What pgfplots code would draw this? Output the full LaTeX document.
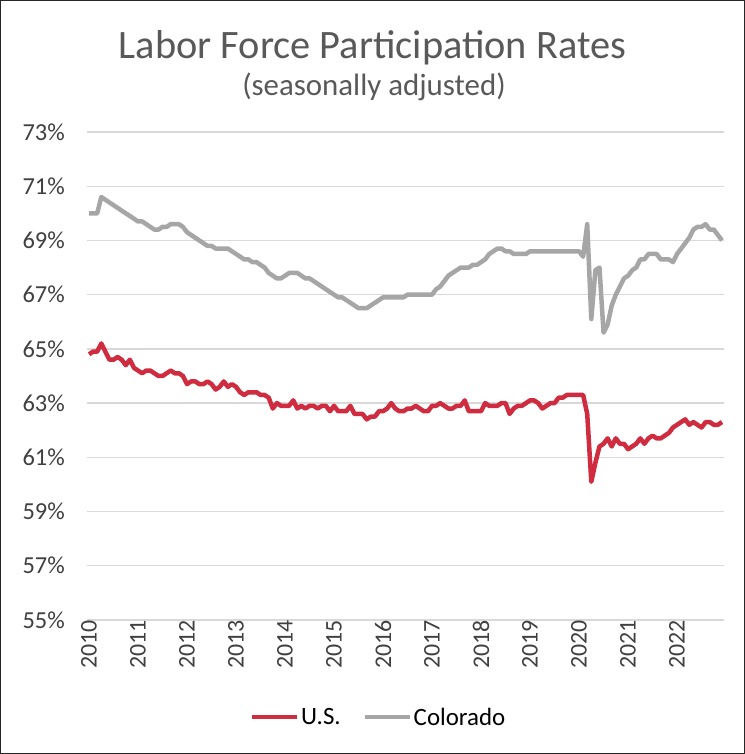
\documentclass[border=0pt]{standalone}
\usepackage{fontspec}
\setmainfont{Carlito}
\usepackage{pgfplots}
\pgfplotsset{compat=1.18}
\usepackage{pgfplotstable}

\definecolor{usred}{HTML}{D02C40}
\definecolor{cogray}{HTML}{A6A6A6}
\definecolor{gridgray}{HTML}{D9D9D9}
\definecolor{titlegray}{HTML}{595959}
\definecolor{ticktext}{HTML}{404040}

% Monthly labor force participation rate, Jan 2010 - Dec 2022 (%)
\pgfplotstableread{
v
64.8
64.9
64.9
65.2
64.9
64.6
64.6
64.7
64.6
64.4
64.6
64.3
64.2
64.1
64.2
64.2
64.1
64.0
64.0
64.1
64.2
64.1
64.1
64.0
63.7
63.8
63.8
63.7
63.7
63.8
63.7
63.5
63.6
63.8
63.6
63.7
63.6
63.4
63.3
63.4
63.4
63.4
63.3
63.3
63.2
62.8
63.0
62.9
62.9
62.9
63.1
62.8
62.9
62.8
62.9
62.9
62.8
62.9
62.9
62.7
62.9
62.7
62.7
62.7
62.9
62.6
62.6
62.6
62.4
62.5
62.5
62.7
62.7
62.8
63.0
62.8
62.7
62.7
62.8
62.8
62.9
62.8
62.7
62.7
62.9
62.9
63.0
62.9
62.8
62.8
62.9
62.9
63.1
62.7
62.7
62.7
62.7
63.0
62.9
62.9
62.9
63.0
63.0
62.6
62.8
62.9
62.9
63.0
63.1
63.1
63.0
62.8
62.9
63.0
63.0
63.2
63.2
63.3
63.3
63.3
63.3
63.3
62.6
60.1
60.8
61.4
61.5
61.7
61.4
61.7
61.5
61.5
61.3
61.4
61.5
61.7
61.5
61.7
61.8
61.7
61.7
61.8
61.9
62.1
62.2
62.3
62.4
62.2
62.3
62.2
62.1
62.3
62.3
62.2
62.2
62.3
}\usdata

\pgfplotstableread{
v
70.0
70.0
70.0
70.6
70.5
70.4
70.3
70.2
70.1
70.0
69.9
69.8
69.7
69.7
69.6
69.5
69.4
69.4
69.5
69.5
69.6
69.6
69.6
69.5
69.3
69.2
69.1
69.0
68.9
68.8
68.8
68.7
68.7
68.7
68.7
68.6
68.5
68.4
68.3
68.3
68.2
68.2
68.1
68.0
67.8
67.7
67.6
67.6
67.7
67.8
67.8
67.8
67.7
67.6
67.6
67.5
67.4
67.3
67.2
67.1
67.0
66.9
66.9
66.8
66.7
66.6
66.5
66.5
66.5
66.6
66.7
66.8
66.9
66.9
66.9
66.9
66.9
66.9
67.0
67.0
67.0
67.0
67.0
67.0
67.0
67.2
67.3
67.5
67.7
67.8
67.9
68.0
68.0
68.0
68.1
68.1
68.2
68.3
68.5
68.6
68.7
68.7
68.6
68.6
68.5
68.5
68.5
68.5
68.6
68.6
68.6
68.6
68.6
68.6
68.6
68.6
68.6
68.6
68.6
68.6
68.6
68.4
69.6
66.1
67.9
68.0
65.6
65.9
66.6
67.0
67.3
67.6
67.7
67.9
68.0
68.3
68.3
68.5
68.5
68.5
68.3
68.3
68.3
68.2
68.5
68.7
68.9
69.1
69.4
69.5
69.5
69.6
69.4
69.4
69.2
69.0
}\codata

\begin{document}
\begin{tikzpicture}[x=1bp,y=1bp]
\useasboundingbox (0,0) rectangle (745,754);
\fill[white] (0,0) rectangle (745,754);
\draw[line width=1.3bp, draw=black!85] (0.65,0.65) rectangle (744.35,753.35);
\node[anchor=base, font=\fontsize{40.5}{46}\selectfont, text=titlegray, inner sep=0pt]
  at (372.5,695) {Labor Force Participation Rates};
\node[anchor=base, font=\fontsize{31}{36}\selectfont, text=titlegray, inner sep=0pt]
  at (374,658) {(seasonally adjusted)};
\begin{axis}[
  at={(87bp,134bp)}, anchor=south west,
  width=637bp, height=488bp, scale only axis,
  xmin=-0.5, xmax=155.5, ymin=55, ymax=73,
  axis line style={draw=none},
  major tick length=0pt,
  ymajorgrids, grid style={gridgray, line width=1.3bp},
  ytick={55,57,...,73},
  yticklabels={55\%,57\%,59\%,61\%,63\%,65\%,67\%,69\%,71\%,73\%},
  yticklabel style={font=\fontsize{24.5}{29}\selectfont, text=ticktext, anchor=east, inner sep=0pt, xshift=-22bp},
  xtick={0,12,...,144},
  xticklabels={2010,2011,2012,2013,2014,2015,2016,2017,2018,2019,2020,2021,2022},
  xticklabel style={font=\fontsize{24}{28}\selectfont, text=ticktext, rotate=90, anchor=east, inner sep=0pt},
  legend style={draw=none, fill=none, font=\fontsize{25}{30}\selectfont, text=black,
    at={(0.458,-0.199)}, anchor=center, legend columns=2,
    /tikz/every even column/.append style={column sep=20bp}},
  legend image code/.code={\draw[#1, line width=4bp] (0bp,0bp) -- (45bp,0bp);},
]
\addplot[usred, line width=4.5bp, line join=round] table[x expr=\coordindex, y=v] {\usdata};
\addlegendentry{U.S.}
\addplot[cogray, line width=4.5bp, line join=round] table[x expr=\coordindex, y=v] {\codata};
\addlegendentry{Colorado}
\end{axis}
\end{tikzpicture}
\end{document}
